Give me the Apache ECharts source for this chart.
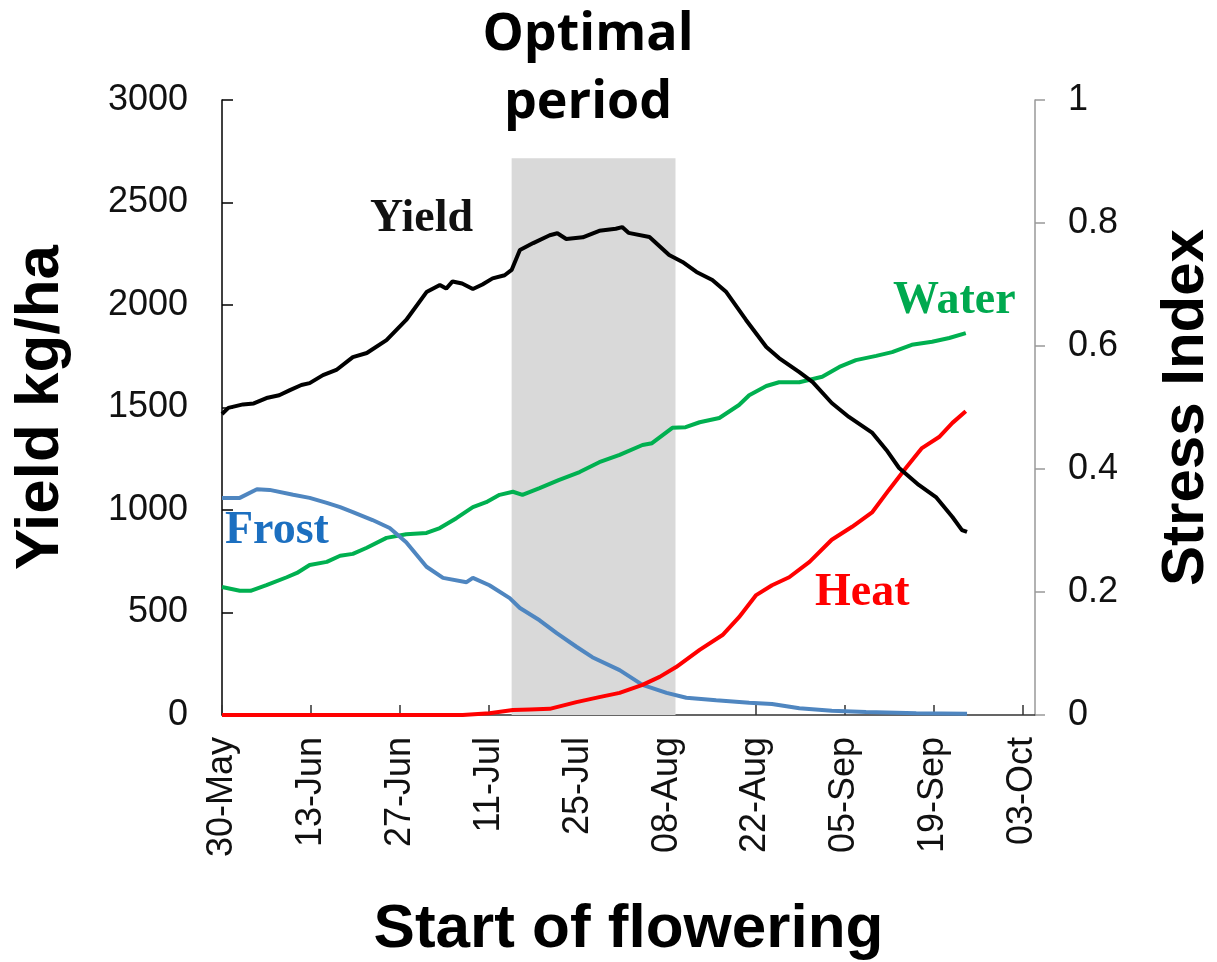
<!DOCTYPE html>
<html>
<head>
<meta charset="utf-8">
<script src="https://cdn.jsdelivr.net/npm/echarts@6/dist/echarts.min.js"></script>
<style>
html,body{margin:0;padding:0;background:#fff;}
#chart{width:1217px;height:962px;}
</style>
</head>
<body>
<div id="chart"></div>
<script>
// x = days after 30-May (start of flowering)
const xTickLabels = ['30-May','13-Jun','27-Jun','11-Jul','25-Jul','08-Aug','22-Aug','05-Sep','19-Sep','03-Oct'];
const yieldTicks = [0, 500, 1000, 1500, 2000, 2500, 3000];
const stressTicks = [0, 0.2, 0.4, 0.6, 0.8, 1];

const yieldDays = [0, 1, 3.3, 5, 7, 9, 10.7, 12.5, 13.8, 15.9, 18, 20.6, 22.8, 25.9, 29, 32.2, 34.3, 35.3, 36.3, 37.8, 39.5, 41, 42.6, 44.5, 45.6, 46.9, 49, 51.6, 52.8, 54.2, 56.8, 59.4, 62, 63, 64, 67.3, 70.4, 72.5, 74.7, 77.2, 79.4, 82.5, 85.7, 87.7, 90.9, 93, 96, 98.7, 102.4, 104.6, 106.6, 109.7, 112.4, 115, 116.5, 117.3];
const yieldValues = [1468, 1498, 1515, 1520, 1546, 1560, 1585, 1610, 1619, 1658, 1683, 1746, 1766, 1829, 1927, 2063, 2098, 2080, 2115, 2105, 2078, 2100, 2130, 2145, 2171, 2268, 2302, 2340, 2350, 2322, 2330, 2362, 2372, 2380, 2352, 2332, 2244, 2210, 2161, 2122, 2063, 1927, 1795, 1741, 1673, 1624, 1522, 1454, 1376, 1293, 1205, 1122, 1063, 966, 902, 893];

const waterDays = [0, 2.8, 4.5, 7, 10.2, 11.8, 13.8, 16.5, 18.6, 20.6, 22.8, 25.9, 29, 32.2, 34.3, 36.9, 39.5, 41.6, 43.7, 45.8, 47.3, 50, 53, 56.3, 59.4, 62.6, 66.2, 67.7, 70.9, 73, 75.2, 78.3, 81.4, 83, 85.7, 87.7, 90.9, 94.5, 97.2, 99.8, 103, 105.5, 108.6, 111.8, 114.5, 117.1];
const waterValues = [0.208, 0.202, 0.202, 0.211, 0.224, 0.231, 0.244, 0.249, 0.259, 0.262, 0.272, 0.288, 0.294, 0.296, 0.304, 0.320, 0.338, 0.346, 0.358, 0.363, 0.358, 0.369, 0.382, 0.395, 0.411, 0.423, 0.439, 0.442, 0.467, 0.468, 0.476, 0.483, 0.504, 0.520, 0.535, 0.541, 0.541, 0.550, 0.566, 0.577, 0.584, 0.590, 0.602, 0.607, 0.613, 0.621];

const frostDays = [0, 2.8, 5.5, 7.5, 11.2, 13.8, 16.5, 18.6, 20.6, 23.7, 26.4, 29, 32.2, 34.8, 38.5, 39.5, 42.1, 45.3, 46.9, 50, 52.7, 55.8, 58.3, 62.6, 66.2, 70, 73.1, 77.8, 83, 86.6, 90.9, 96, 101.4, 109.3, 117.3];
const frostValues = [0.353, 0.353, 0.367, 0.366, 0.358, 0.353, 0.345, 0.338, 0.330, 0.317, 0.304, 0.281, 0.241, 0.223, 0.216, 0.223, 0.211, 0.190, 0.174, 0.154, 0.133, 0.111, 0.094, 0.073, 0.049, 0.036, 0.028, 0.024, 0.020, 0.018, 0.011, 0.007, 0.005, 0.003, 0.002];

const heatDays = [0, 37.9, 42.1, 45.8, 48.5, 51.6, 55.8, 59.4, 62.6, 66.2, 68.9, 71.5, 75.2, 78.8, 81.4, 84.1, 86.6, 89.3, 92.5, 96, 99.2, 102.4, 105, 107.7, 110.2, 112.9, 115, 117.1];
const heatValues = [0, 0, 0.003, 0.008, 0.009, 0.010, 0.021, 0.029, 0.036, 0.049, 0.062, 0.078, 0.106, 0.130, 0.159, 0.195, 0.211, 0.224, 0.249, 0.285, 0.306, 0.330, 0.366, 0.402, 0.434, 0.452, 0.475, 0.494];

// optimal period band (days, yield units)
const bandStart = 45.6, bandEnd = 71.4, bandTop = 2716;

const pairs = (xs, ys) => xs.map((x, i) => [x, ys[i]]);

const chart = echarts.init(document.getElementById('chart'));
const tickFont = {fontFamily: 'Liberation Sans', fontSize: 36, color: '#111'};
const lineBase = {type: 'line', showSymbol: false, symbol: 'none', smooth: false, z: 3, silent: true};

chart.setOption({
  animation: false,
  backgroundColor: '#fff',
  grid: {left: 222, right: 182, top: 100, bottom: 247, containLabel: false, outerBoundsMode: 'none'},
  xAxis: {
    type: 'value', min: 0, max: 128, interval: 14,
    name: 'Start of flowering', nameLocation: 'middle', nameGap: 184,
    nameTextStyle: {fontFamily: 'Liberation Sans', fontWeight: 'bold', fontSize: 62, color: '#000'},
    axisLine: {show: true, onZero: false, lineStyle: {color: '#333', width: 1.5}},
    axisTick: {show: true, inside: true, length: 10, lineStyle: {color: '#333', width: 1.5}},
    axisLabel: Object.assign({rotate: 90, margin: 22, showMaxLabel: false,
      formatter: v => (v % 14 === 0 ? (xTickLabels[v / 14] || '') : '')}, tickFont),
    splitLine: {show: false}
  },
  yAxis: [{
    type: 'value', min: yieldTicks[0], max: yieldTicks[yieldTicks.length - 1], interval: 500, position: 'left',
    name: 'Yield kg/ha', nameLocation: 'middle', nameRotate: 90, nameGap: 150,
    nameTextStyle: {fontFamily: 'Liberation Sans', fontWeight: 'bold', fontSize: 62, color: '#000'},
    axisLine: {show: true, lineStyle: {color: '#000', width: 1.5}},
    axisTick: {show: true, inside: true, length: 11, lineStyle: {color: '#000', width: 1.5}},
    axisLabel: Object.assign({margin: 34, formatter: v => String(v)}, tickFont),
    splitLine: {show: false}
  }, {
    type: 'value', min: stressTicks[0], max: stressTicks[stressTicks.length - 1], interval: 0.2, position: 'right',
    name: 'Stress Index', nameLocation: 'middle', nameRotate: 90, nameGap: 121,
    nameTextStyle: {fontFamily: 'Liberation Sans', fontWeight: 'bold', fontSize: 60, color: '#000'},
    axisLine: {show: true, lineStyle: {color: '#999', width: 1.5}},
    axisTick: {show: true, inside: false, length: 10, lineStyle: {color: '#999', width: 1.5}},
    axisLabel: Object.assign({margin: 33, formatter: v => String(+v.toFixed(1))}, tickFont),
    splitLine: {show: false}
  }],
  graphic: [
    {type: 'text', x: 588, y: 1, z: 10,
      style: {text: 'Optimal\nperiod', fontFamily: 'Open Sans', fontWeight: 'bold', fontSize: 52, lineHeight: 68, fill: '#000', align: 'center', verticalAlign: 'top'}},
    {type: 'text', x: 370, y: 219, z: 10,
      style: {text: 'Yield', fontFamily: 'Liberation Serif', fontWeight: 'bold', fontSize: 46, fill: '#111', align: 'left', verticalAlign: 'middle'}},
    {type: 'text', x: 893, y: 301, z: 10,
      style: {text: 'Water', fontFamily: 'Liberation Serif', fontWeight: 'bold', fontSize: 46, fill: '#00a94f', align: 'left', verticalAlign: 'middle'}},
    {type: 'text', x: 225, y: 531, z: 10,
      style: {text: 'Frost', fontFamily: 'Liberation Serif', fontWeight: 'bold', fontSize: 46, fill: '#1c6fc0', align: 'left', verticalAlign: 'middle'}},
    {type: 'text', x: 815, y: 593, z: 10,
      style: {text: 'Heat', fontFamily: 'Liberation Serif', fontWeight: 'bold', fontSize: 46, fill: '#ff0000', align: 'left', verticalAlign: 'middle'}}
  ],
  series: [
    {type: 'line', data: [], yAxisIndex: 0, z: 1, silent: true,
      markArea: {silent: true, itemStyle: {color: '#d9d9d9', opacity: 1},
        data: [[{xAxis: bandStart, yAxis: 0}, {xAxis: bandEnd, yAxis: bandTop}]]}},
    Object.assign({name: 'Water', yAxisIndex: 1, data: pairs(waterDays, waterValues),
      lineStyle: {color: '#00b050', width: 4}, itemStyle: {color: '#00b050'}}, lineBase),
    Object.assign({name: 'Frost', yAxisIndex: 1, data: pairs(frostDays, frostValues),
      lineStyle: {color: '#4f86c0', width: 4}, itemStyle: {color: '#4f86c0'}}, lineBase),
    Object.assign({name: 'Heat', yAxisIndex: 1, data: pairs(heatDays, heatValues),
      lineStyle: {color: '#ff0000', width: 4}, itemStyle: {color: '#ff0000'}}, lineBase),
    Object.assign({name: 'Yield', yAxisIndex: 0, data: pairs(yieldDays, yieldValues),
      lineStyle: {color: '#000', width: 4}, itemStyle: {color: '#000'}}, lineBase)
  ]
});
</script>
</body>
</html>
